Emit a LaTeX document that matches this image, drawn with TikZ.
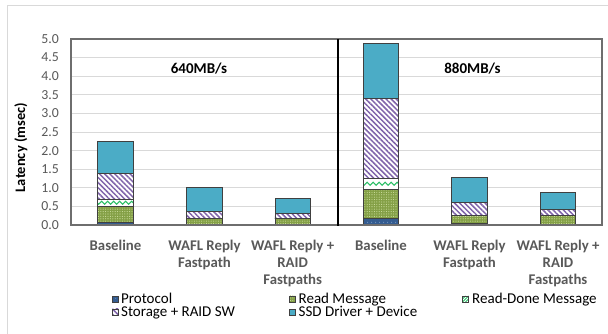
\documentclass[tikz,border=0pt]{standalone}
\usepackage{fontspec}
\setmainfont{Carlito}
\usetikzlibrary{patterns.meta,decorations.pathmorphing}
\definecolor{protoC}{RGB}{52,92,144}
\definecolor{protoD}{RGB}{150,180,215}
\definecolor{readC}{RGB}{132,160,70}
\definecolor{readD}{RGB}{205,222,160}
\definecolor{doneC}{RGB}{40,190,100}
\definecolor{storC}{RGB}{128,100,170}
\definecolor{ssdC}{RGB}{75,172,198}
\definecolor{gridC}{RGB}{217,217,217}
\definecolor{frameC}{RGB}{110,110,110}
\definecolor{txtC}{RGB}{89,89,89}
\definecolor{outerC}{RGB}{217,217,217}
\tikzset{
  segline/.style={draw=black!75,line width=0.7pt},
  ticklbl/.style={anchor=east,inner sep=0pt,text=txtC,font=\fontsize{13.8}{15}\selectfont},
  catlbl/.style={anchor=north,inner sep=0pt,align=center,text=txtC,font=\fontsize{14.8}{17}\selectfont\bfseries},
  ratelbl/.style={inner sep=0pt,font=\fontsize{15}{17}\selectfont\bfseries},
  leglbl/.style={anchor=base west,inner sep=0pt,font=\fontsize{15}{15}\selectfont},
  protofill/.style={pattern={Dots[distance=4pt,radius=0.55pt]},pattern color=protoD},
  readfill/.style={pattern={Dots[distance=2.4pt,radius=0.55pt]},pattern color=readD},
  storfill/.style={pattern={Lines[angle=-45,distance=3.6pt,line width=1.5pt]},pattern color=storC},
  wave/.style={draw=doneC,line width=1pt,decorate,decoration={snake,amplitude=1.5pt,segment length=6pt}},
}
% #1 centre x, #2..#6 cumulative tops of the five segments
\newcommand\drawbar[6]{%
  \pgfmathsetmacro\xl{#1-17.75}\pgfmathsetmacro\xr{#1+17.75}%
  \pgfmathsetmacro\ya{109}%
  \pgfmathsetmacro\yb{109+37.2*#2}%
  \pgfmathsetmacro\yc{109+37.2*#3}%
  \pgfmathsetmacro\yd{109+37.2*#4}%
  \pgfmathsetmacro\ye{109+37.2*#5}%
  \pgfmathsetmacro\yf{109+37.2*#6}%
  \pgfmathsetmacro\ym{(\yc+\yd)/2}%
  \fill[protoC] (\xl,\ya) rectangle (\xr,\yb);
  \fill[protofill] (\xl,\ya) rectangle (\xr,\yb);
  \fill[readC] (\xl,\yb) rectangle (\xr,\yc);
  \fill[readfill] (\xl,\yb) rectangle (\xr,\yc);
  \fill[white] (\xl,\yc) rectangle (\xr,\yd);
  \begin{scope}
    \clip (\xl,\yc) rectangle (\xr,\yd);
    \draw[wave] (\xl-4,\ym) -- (\xr+4,\ym);
    \draw[wave] (\xl-4,\ym+8) -- (\xr+4,\ym+8);
    \draw[wave] (\xl-4,\ym-8) -- (\xr+4,\ym-8);
  \end{scope}
  \fill[white] (\xl,\yd) rectangle (\xr,\ye);
  \fill[storfill] (\xl,\yd) rectangle (\xr,\ye);
  \fill[ssdC] (\xl,\ye) rectangle (\xr,\yf);
  \draw[segline] (\xl,\ya) rectangle (\xr,\yb);
  \draw[segline] (\xl,\yb) rectangle (\xr,\yc);
  \draw[segline] (\xl,\yc) rectangle (\xr,\yd);
  \draw[segline] (\xl,\yd) rectangle (\xr,\ye);
  \draw[segline] (\xl,\ye) rectangle (\xr,\yf);
}
\begin{document}
\begin{tikzpicture}[x=1pt,y=1pt]
\useasboundingbox (0,0) rectangle (608,334);
\fill[white] (0,0) rectangle (608,334);
% outer chart border
\draw[outerC,line width=1pt] (7,-5) -- (7,328) -- (615,328);
% grid
\foreach \v in {0.5,1.0,...,4.6}
  \draw[gridC,line width=0.8pt] (71,{109+37.2*\v}) -- (602,{109+37.2*\v});
% bars
\drawbar{115.5}{0.07}{0.51}{0.69}{1.38}{2.24}
\drawbar{204.5}{0.02}{0.18}{0.18}{0.37}{1.01}
\drawbar{292.7}{0.03}{0.18}{0.18}{0.31}{0.71}
\drawbar{381}{0.18}{0.96}{1.26}{3.41}{4.87}
\drawbar{469.5}{0.05}{0.25}{0.25}{0.61}{1.29}
\drawbar{558}{0.02}{0.26}{0.26}{0.42}{0.88}
% frame
\draw[frameC,line width=1.1pt] (71,109) rectangle (602,295);
% divider
\draw[black,line width=2.6pt] (338,108) -- (338,295);
% tick labels
\foreach \v [count=\i] in {0.0,0.5,1.0,1.5,2.0,2.5,3.0,3.5,4.0,4.5,5.0}
  \node[ticklbl] (tick\i) at (59,{109+37.2*\v}) {\v};
% axis title
\node[rotate=90,inner sep=0pt,font=\fontsize{14.5}{16}\selectfont\bfseries] (ytitle) at (21,186.5) {Latency (msec)};
% rate labels
\node[ratelbl] (r640) at (199,265) {640MB/s};
\node[ratelbl] (r880) at (472.5,265) {880MB/s};
% category labels
\node[catlbl] (c1) at (115.5,94.5) {Baseline};
\node[catlbl] (c2) at (204.5,94.5) {WAFL Reply\\Fastpath};
\node[catlbl] (c3) at (292.7,94.5) {WAFL Reply +\\RAID\\Fastpaths};
\node[catlbl] (c4) at (381,94.5) {Baseline};
\node[catlbl] (c5) at (469.5,94.5) {WAFL Reply\\Fastpath};
\node[catlbl] (c6) at (558,94.5) {WAFL Reply +\\RAID\\Fastpaths};
% legend
\def\ms{3}
\fill[protoC] (115.5-\ms,35-\ms) rectangle (115.5+\ms,35+\ms);
\fill[protofill] (115.5-\ms,35-\ms) rectangle (115.5+\ms,35+\ms);
\draw[segline] (115.5-\ms,35-\ms) rectangle (115.5+\ms,35+\ms);
\node[leglbl] (l1) at (121,30.8) {Protocol};
\fill[readC] (292-\ms,35-\ms) rectangle (292+\ms,35+\ms);
\fill[readfill] (292-\ms,35-\ms) rectangle (292+\ms,35+\ms);
\draw[segline] (292-\ms,35-\ms) rectangle (292+\ms,35+\ms);
\node[leglbl] (l2) at (298.5,30.8) {Read Message};
\begin{scope}
  \clip (465.5-\ms,35-\ms) rectangle (465.5+\ms,35+\ms);
  \draw[doneC,line width=0.8pt] (465.5-\ms,35-\ms) -- (465.5+\ms,35+\ms);
  \draw[doneC,line width=0.8pt] (465.5-\ms,35) -- (465.5,35+\ms);
  \draw[doneC,line width=0.8pt] (465.5,35-\ms) -- (465.5+\ms,35);
\end{scope}
\draw[segline] (465.5-\ms,35-\ms) rectangle (465.5+\ms,35+\ms);
\node[leglbl] (l3) at (472,30.8) {Read-Done Message};
\fill[storfill] (115.5-\ms,22-\ms) rectangle (115.5+\ms,22+\ms);
\draw[segline] (115.5-\ms,22-\ms) rectangle (115.5+\ms,22+\ms);
\node[leglbl] (l4) at (121,17.3) {Storage + RAID SW};
\fill[ssdC] (292-\ms,22-\ms) rectangle (292+\ms,22+\ms);
\draw[segline] (292-\ms,22-\ms) rectangle (292+\ms,22+\ms);
\node[leglbl] (l5) at (298.5,17.3) {SSD Driver + Device};
\end{tikzpicture}
\end{document}
